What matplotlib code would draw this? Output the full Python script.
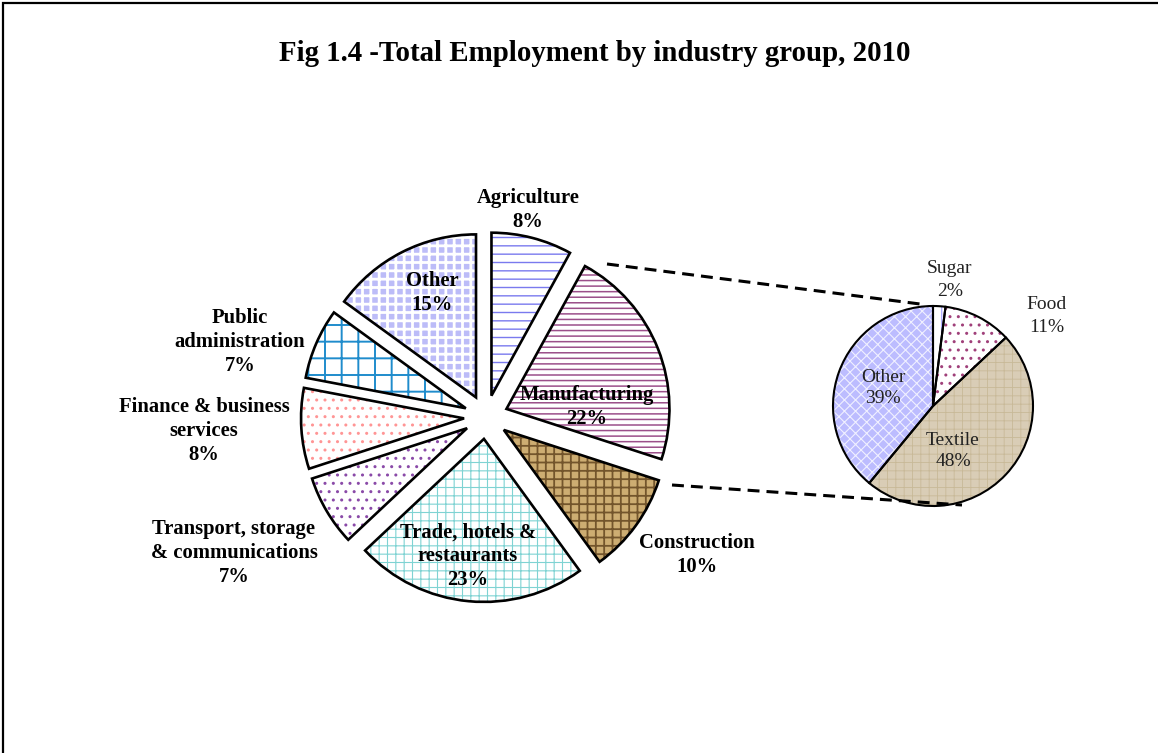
import matplotlib
matplotlib.use("Agg")
import matplotlib.pyplot as plt
from matplotlib.patches import Rectangle

W, H = 1158, 753

title = "Fig 1.4 -Total Employment by industry group, 2010"

main_labels = ["Agriculture", "Manufacturing", "Construction",
               "Trade, hotels &\nrestaurants", "Transport, storage\n& communications",
               "Finance & business\nservices", "Public\nadministration", "Other"]
main_values = [8, 22, 10, 23, 7, 8, 7, 15]

sub_labels = ["Sugar", "Food", "Textile", "Other"]
sub_values = [2, 11, 48, 39]

# styles
main_faces = ["white", "white", "#cdad72", "white", "white", "white", "white", "#bcbcf8"]
main_hatches = ["--", "---", "++", "++", "..", "..", "+", "++"]
main_hcolors = ["#7a7aee", "#9b4f8a", "#73552c", "#7fd3d3", "#8a4aa8", "#ff9595", "#1f8ccc", "#ffffff"]
main_hlw = [1.0, 1.1, 1.3, 0.8, 1.0, 1.0, 1.4, 2.0]

sub_faces = ["white", "white", "#d9cdb6", "#bcbcff"]
sub_hatches = ["|", "..", "++", "xxx"]
sub_hcolors = ["#b0b0ff", "#a0407a", "#c8b998", "#f0f0ff"]
sub_hlw = [1.0, 1.0, 0.6, 0.8]

# layout (pixels, y measured from top)
main_center = (486, 417)
main_radius = 163
main_explode = 22
sub_center = (933, 406)
sub_radius = 100

main_label_pos = [(528, 210), (587, 407), (697, 555), (468, 556), (234, 553),
                  (204, 431), (240, 342), (432, 293)]
sub_label_pos = [(950, 280), (1047, 316), (953, 451), (883, 388)]
sub_label_spacing = [1.45, 1.45, 1.33, 1.3]

fig = plt.figure(figsize=(W / 100, H / 100), dpi=100)
ax = fig.add_axes([0, 0, 1, 1])


def Y(y):
    return H - y


def draw_pie(values, center, radius, explode, faces, hatches, hcolors, hlw, edge_lw):
    cx, cy = center
    ex = [explode] * len(values)
    fills, _ = ax.pie(values, startangle=90, counterclock=False,
                      center=(cx, Y(cy)), radius=radius, explode=ex, frame=True)
    for w, fc, h, hc, lw in zip(fills, faces, hatches, hcolors, hlw):
        w.set_facecolor(fc)
        w.set_edgecolor(hc)
        w.set_hatch(h)
        w.set_linewidth(0)
        if hasattr(w, "set_hatch_linewidth"):
            w.set_hatch_linewidth(lw)
    ax.pie(values, startangle=90, counterclock=False,
           center=(cx, Y(cy)), radius=radius, explode=ex, frame=True,
           wedgeprops=dict(fill=False, edgecolor="black", linewidth=edge_lw))
    return fills


draw_pie(main_values, main_center, main_radius, main_explode,
         main_faces, main_hatches, main_hcolors, main_hlw, 1.9)
draw_pie(sub_values, sub_center, sub_radius, 0.0,
         sub_faces, sub_hatches, sub_hcolors, sub_hlw, 1.5)

# connector lines
for (x0, y0), (x1, y1) in [((607, 264), (920, 304)), ((672, 485), (962, 505))]:
    ax.plot([x0, x1], [Y(y0), Y(y1)], color="black", lw=2.2,
            dashes=(3.9, 2.3), solid_capstyle="butt", dash_capstyle="butt")

# labels
for lab, v, (x, y) in zip(main_labels, main_values, main_label_pos):
    ax.text(x, Y(y), f"{lab}\n{v}%", ha="center", va="center",
            fontsize=14.9, fontweight="bold", family="Liberation Serif",
            linespacing=1.25, color="black")
for lab, v, (x, y), ls in zip(sub_labels, sub_values, sub_label_pos, sub_label_spacing):
    ax.text(x, Y(y), f"{lab}\n{v}%", ha="center", va="center",
            fontsize=14, family="Liberation Serif", linespacing=ls,
            color="#222222")

ax.text(595, Y(53), title, ha="center", va="center", fontsize=20.8,
        fontweight="bold", family="Liberation Serif")

# frame (top and left edges visible)
ax.add_patch(Rectangle((3, -20), W + 40, H - 3 + 20, fill=False,
                       edgecolor="black", lw=1.6))

ax.set_xlim(0, W)
ax.set_ylim(0, H)
ax.set_aspect("equal")
ax.axis("off")
fig.savefig("out.png", dpi=100, facecolor="white")
